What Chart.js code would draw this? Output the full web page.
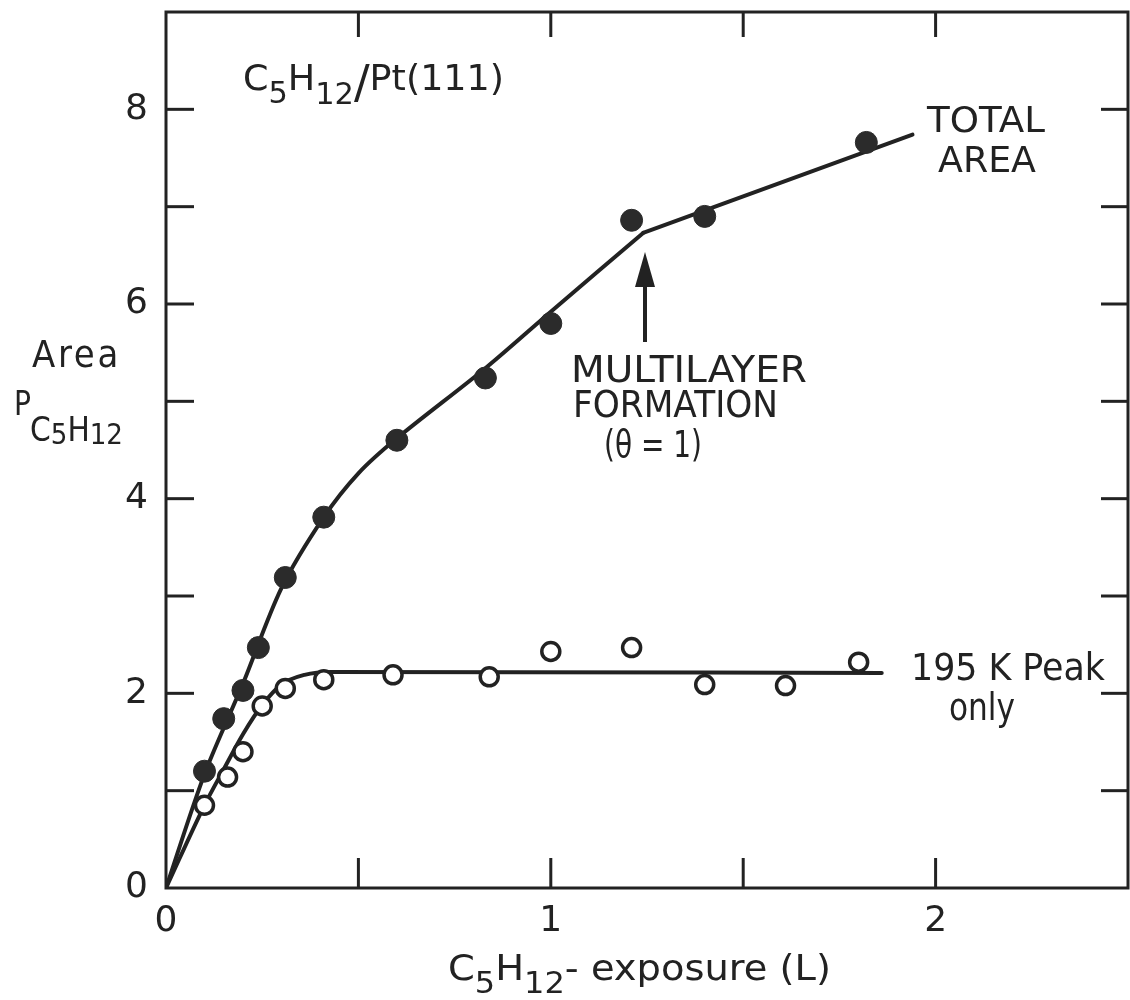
<!DOCTYPE html>
<html>
<head>
<meta charset="utf-8">
<script src="https://cdn.jsdelivr.net/npm/chart.js@4"></script>
<style>
  html, body { margin: 0; padding: 0; background: #fff; }
  #wrap { width: 1130px; height: 1000px; }
</style>
</head>
<body>
<div id="wrap"><canvas id="c" width="1130" height="1000"></canvas></div>
<script>
// -------- Data --------------------------------
// total area, filled circles
const totalX = [0.10, 0.15, 0.20, 0.24, 0.31, 0.41, 0.60, 0.83, 1.00, 1.21, 1.40, 1.82];
const totalY = [1.20, 1.74, 2.03, 2.47, 3.19, 3.81, 4.60, 5.24, 5.80, 6.86, 6.90, 7.66];
// 195 K peak only, open circles
const peakX = [0.10, 0.16, 0.20, 0.25, 0.31, 0.41, 0.59, 0.84, 1.00, 1.21, 1.40, 1.61, 1.80];
const peakY = [0.85, 1.14, 1.40, 1.87, 2.05, 2.14, 2.19, 2.17, 2.43, 2.47, 2.09, 2.08, 2.32];
// hand drawn fit curves: monolayer part, multilayer straight part
const totalFitX = [0, 0.10, 0.20, 0.30, 0.41, 0.50, 0.60, 0.83, 1.00, 1.24];
const totalFitY = [0, 1.17, 2.10, 3.08, 3.81, 4.26, 4.62, 5.34, 5.92, 6.73];
const multiFitX = [1.24, 1.94];
const multiFitY = [6.73, 7.74];
const peakFitX = [0, 0.10, 0.15, 0.20, 0.25, 0.30, 0.36, 0.43, 1.86];
const peakFitY = [0, 0.85, 1.22, 1.58, 1.88, 2.09, 2.19, 2.22, 2.21];
// axes
const xTickLabels = [0, 1, 2];
const yTickLabels = [0, 2, 4, 6, 8];

const INK = "#222";
const FONT = "'DejaVu Sans', sans-serif";

const pts = (xs, ys) => xs.map((v, i) => ({ x: v, y: ys[i] }));

// draws a run of text pieces [text, size, dy], squeezed to a given width
function rich(ctx, x, y, parts, width, align) {
  let natural = 0;
  parts.forEach(p => { ctx.font = `${p[1]}px ${FONT}`; natural += ctx.measureText(p[0]).width; });
  const sx = width ? width / natural : 1;
  ctx.save();
  ctx.translate(x, y);
  ctx.scale(sx, 1);
  let cx = align === "center" ? -natural / 2 : 0;
  parts.forEach(p => {
    ctx.font = `${p[1]}px ${FONT}`;
    ctx.fillText(p[0], cx, p[2] || 0);
    cx += ctx.measureText(p[0]).width;
  });
  ctx.restore();
}

function seg(ctx, x1, y1, x2, y2) {
  ctx.beginPath(); ctx.moveTo(x1, y1); ctx.lineTo(x2, y2); ctx.stroke();
}

// ----- frame, inside ticks, labels -----
const frame = {
  id: "frame",
  afterDraw(chart) {
    const { ctx, chartArea: a, scales: { x, y } } = chart;
    ctx.save();
    ctx.strokeStyle = INK;
    ctx.fillStyle = INK;
    ctx.lineWidth = 3;
    ctx.strokeRect(a.left, a.top, a.right - a.left, a.bottom - a.top);

    x.ticks.forEach(t => {
      if (t.value <= x.min || t.value >= x.max) return;
      const p = x.getPixelForValue(t.value);
      seg(ctx, p, a.bottom, p, a.bottom - 30);
      seg(ctx, p, a.top, p, a.top + 25);
    });
    y.ticks.forEach(t => {
      if (t.value <= y.min || t.value >= y.max) return;
      const p = y.getPixelForValue(t.value);
      seg(ctx, a.left, p, a.left + 28, p);
      seg(ctx, a.right, p, a.right - 27, p);
    });

    ctx.textBaseline = "alphabetic";
    // axis titles
    rich(ctx, 448, 980, [["C", 36], ["5", 30, 13], ["H", 36], ["12", 30, 13], ["- exposure (L)", 36]], 383);
    ctx.save(); ctx.letterSpacing = "3px";
    rich(ctx, 32, 367, [["Area", 38]], 89);
    ctx.restore();
    rich(ctx, 14, 415, [["P", 34]], 17);
    rich(ctx, 30, 441, [["C", 33], ["5", 29, 3], ["H", 33], ["12", 29, 3]], 93);

    // annotations
    rich(ctx, 243, 90, [["C", 36], ["5", 30, 13], ["H", 36], ["12", 30, 14], ["/", 46, 8], ["Pt(111)", 36]], 261);
    rich(ctx, 986, 132, [["TOTAL", 35]], 118, "center");
    rich(ctx, 987, 172, [["AREA", 35]], 98, "center");
    rich(ctx, 571, 382, [["MULTILAYER", 37]], 236);
    rich(ctx, 573, 417, [["FORMATION", 37]], 205);
    rich(ctx, 604, 457, [["(θ = 1)", 37]], 98);
    rich(ctx, 911, 680, [["195 K Peak", 37]], 194);
    rich(ctx, 949, 720, [["only", 37]], 66);

    // arrow to the kink
    ctx.lineWidth = 4;
    seg(ctx, 645, 342, 645, 282);
    ctx.beginPath();
    ctx.moveTo(645, 252); ctx.lineTo(635, 287); ctx.lineTo(655, 287); ctx.closePath();
    ctx.fill();
    ctx.restore();
  }
};

const fitLine = (xs, ys, extra) => Object.assign({
  data: pts(xs, ys), order: 1, showLine: true, pointRadius: 0,
  borderColor: INK, borderWidth: 4, borderCapStyle: "round", borderJoinStyle: "round"
}, extra);

new Chart(document.getElementById("c"), {
  type: "scatter",
  data: {
    datasets: [
      { data: pts(totalX, totalY), order: 0, pointRadius: 11, pointBackgroundColor: "#2b2b2b",
        pointBorderColor: "#2b2b2b", pointBorderWidth: 1, showLine: false },
      { data: pts(peakX, peakY), order: 0, pointRadius: 9, pointBackgroundColor: "#fff",
        pointBorderColor: INK, pointBorderWidth: 3.5, showLine: false },
      fitLine(totalFitX, totalFitY, { tension: 0.3 }),
      fitLine(multiFitX, multiFitY, { tension: 0 }),
      fitLine(peakFitX, peakFitY, { cubicInterpolationMode: "monotone" })
    ]
  },
  options: {
    responsive: false,
    animation: false,
    devicePixelRatio: 1,
    layout: { autoPadding: false, padding: { top: 12, right: 2, left: 0, bottom: 0 } },
    plugins: { legend: { display: false }, tooltip: { enabled: false } },
    scales: {
      x: {
        type: "linear", min: 0, max: 2.5,
        grid: { display: false, drawTicks: false },
        border: { display: false },
        ticks: {
          stepSize: 0.5, padding: 12, color: INK, maxRotation: 0,
          font: { family: FONT, size: 36 },
          callback: v => xTickLabels.includes(v) ? String(v) : ""
        },
        afterFit: s => { s.height = 112; s.paddingLeft = 0; s.paddingRight = 0; }
      },
      y: {
        type: "linear", min: 0, max: 9,
        grid: { display: false, drawTicks: false },
        border: { display: false },
        ticks: {
          stepSize: 1, padding: 18, color: INK,
          font: { family: FONT, size: 36 },
          callback: v => yTickLabels.includes(v) ? String(v) : ""
        },
        afterFit: s => { s.width = 166; s.paddingTop = 0; s.paddingBottom = 0; }
      }
    }
  },
  plugins: [frame]
});
</script>
</body>
</html>
